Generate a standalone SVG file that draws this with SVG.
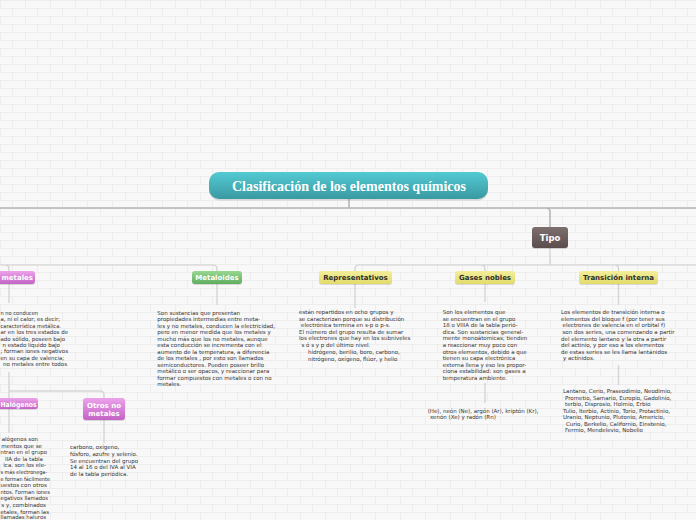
<svg xmlns="http://www.w3.org/2000/svg" width="696" height="520" viewBox="0 0 696 520">
<defs>
<pattern id="brick" width="50" height="16" patternUnits="userSpaceOnUse">
<rect width="50" height="16" fill="#f8f8f8"/>
<path d="M0,0.5H50M0,8.5H50M0.5,0V8M25.5,0V8M12.5,8V16M37.5,8V16" stroke="#ededed" stroke-width="1" fill="none"/>
</pattern>
<linearGradient id="gTitle" x1="0" y1="0" x2="0" y2="1"><stop offset="0" stop-color="#53cad3"/><stop offset="1" stop-color="#3a99a1"/></linearGradient>
<linearGradient id="gYel" x1="0" y1="0" x2="0" y2="1"><stop offset="0" stop-color="#f3ef9a"/><stop offset="1" stop-color="#e1db6b"/></linearGradient>
<linearGradient id="gGreen" x1="0" y1="0" x2="0" y2="1"><stop offset="0" stop-color="#98d791"/><stop offset="1" stop-color="#60ad60"/></linearGradient>
<linearGradient id="gPink" x1="0" y1="0" x2="0" y2="1"><stop offset="0" stop-color="#eca2ea"/><stop offset="1" stop-color="#c363c5"/></linearGradient>
<linearGradient id="gTipo" x1="0" y1="0" x2="0" y2="1"><stop offset="0" stop-color="#7e6f6f"/><stop offset="1" stop-color="#5b4d4d"/></linearGradient>
</defs>
<style>
.t{font-family:"DejaVu Sans",Verdana,sans-serif;font-size:5.5px;fill:#333}
.e{text-anchor:end}
.n{font-family:"DejaVu Sans",Verdana,sans-serif;font-weight:bold;font-size:7px;text-anchor:middle}
.w{fill:#fff}
.d{fill:#2e2e2e}
.sh{fill:#000;opacity:0.13}
.c{fill:none;stroke:#b4b4b4;stroke-width:1.5}
.c2{fill:none;stroke:#cfcfcf;stroke-width:1.2}
.c3{fill:none;stroke:#d6d6d6;stroke-width:1.5}
</style>
<rect width="696" height="520" fill="url(#brick)"/>

<g id="connectors">
<path class="c" d="M0,208H696M349,199V208M546,208Q550,208 550,212V227"/>
<path class="c2" d="M550,248V265M696,265H359Q355,265 355,269V271M481,265Q485,265 485,269V271M614.5,265Q618.5,265 618.5,269V271"/>
<path class="c2" d="M0,265H213Q217,265 217,269V271M5,265Q9,265 9,269V271"/>
<path class="c3" d="M9,284V303M217,284V305M355,284V308M485,284V302M618.5,284V305"/>
<path class="c3" d="M9,372V398M9,391H100Q104,391 104,395V398M104,420V443M9,409V433M485,383V403M618.5,365V385"/>
</g>

<g id="title">
<rect x="209" y="173.5" width="279" height="27" rx="10" class="sh"/>
<rect x="209" y="172" width="279" height="27" rx="10" fill="url(#gTitle)"/>
<text x="349" y="190.5" text-anchor="middle" style="font-family:'Liberation Serif','Times New Roman',serif;font-weight:bold;font-size:14px;fill:#fff">Clasificación de los elementos químicos</text>
</g>

<g id="tipo">
<rect x="532" y="228" width="36" height="21" rx="3" class="sh"/>
<rect x="532" y="227" width="36" height="21" rx="3" fill="url(#gTipo)"/>
<text x="550" y="240.8" class="n w" style="font-size:8.5px">Tipo</text>
</g>

<g id="no-metales">
<rect x="-30" y="272" width="65" height="13" rx="3" class="sh"/>
<rect x="-30" y="271" width="65" height="13" rx="3" fill="url(#gPink)"/>
<text x="33" y="280" class="n w" style="text-anchor:end">metales</text>
<text class="t e" x="38" y="314.7" textLength="37.5" lengthAdjust="spacingAndGlyphs">n no conducen</text>
<text class="t e" x="60" y="321.1" textLength="59.5" lengthAdjust="spacingAndGlyphs">a, ni el calor; es decir;</text>
<text class="t e" x="61" y="327.6" textLength="60.5" lengthAdjust="spacingAndGlyphs">característica metálica.</text>
<text class="t e" x="68" y="334" textLength="67.5" lengthAdjust="spacingAndGlyphs">ar en los tres estados de</text>
<text class="t e" x="65" y="340.5" textLength="64.5" lengthAdjust="spacingAndGlyphs">ado sólido, poseen bajo</text>
<text class="t e" x="60" y="346.9">n estado líquido bajo</text>
<text class="t e" x="68" y="353.4" textLength="67.5" lengthAdjust="spacingAndGlyphs">; forman iones negativos</text>
<text class="t e" x="64" y="359.8" textLength="63.5" lengthAdjust="spacingAndGlyphs">en su capa de valencia;</text>
<text class="t e" x="67" y="366.3">no metales entre todos</text>
</g>

<g id="metaloides">
<rect x="192" y="272" width="50" height="13" rx="3" class="sh"/>
<rect x="192" y="271" width="50" height="13" rx="3" fill="url(#gGreen)"/>
<text x="217" y="280" class="n w">Metaloides</text>
<text class="t">
<tspan x="157.3" y="314.7">Son sustancias que presentan</tspan>
<tspan x="157.3" y="321.2">propiedades intermedias entre meta-</tspan>
<tspan x="157.3" y="327.7">les y no metales, conducen la electricidad,</tspan>
<tspan x="157.3" y="334.2">pero en menor medida que los metales y</tspan>
<tspan x="157.3" y="340.7">mucho más que los no metales, aunque</tspan>
<tspan x="157.3" y="347.2">esta conducción se incrementa con el</tspan>
<tspan x="157.3" y="353.7">aumento de la temperatura, a diferencia</tspan>
<tspan x="157.3" y="360.2">de los metales , por esto son llamados</tspan>
<tspan x="157.3" y="366.7">semiconductores. Pueden poseer brillo</tspan>
<tspan x="157.3" y="373.2">metálico o ser opacos, y reaccionar para</tspan>
<tspan x="157.3" y="379.7">formar compuestos con metales o con no</tspan>
<tspan x="157.3" y="386.2">metales.</tspan>
</text>
</g>

<g id="representativos">
<rect x="319" y="272" width="73" height="13" rx="3" class="sh"/>
<rect x="319" y="271" width="73" height="13" rx="3" fill="url(#gYel)"/>
<text x="355.5" y="280" class="n d">Representativos</text>
<text class="t">
<tspan x="299" y="314">están repartidos en ocho grupos y</tspan>
<tspan x="299" y="320.6">se caracterizan porque su distribución</tspan>
<tspan x="301" y="327.2">electrónica termina en s-p o p-s.</tspan>
<tspan x="299" y="333.8">El número del grupo resulta de sumar</tspan>
<tspan x="299" y="340.4">los electrones que hay en los subniveles</tspan>
<tspan x="301.5" y="347">s ó s y p del último nivel.</tspan>
</text>
<text class="t">
<tspan x="308" y="354">hidrógeno, berilio, boro, carbono,</tspan>
<tspan x="308" y="360.5">nitrógeno, oxígeno, flúor, y helio</tspan>
</text>
</g>

<g id="gases-nobles">
<rect x="455" y="272" width="60" height="13" rx="3" class="sh"/>
<rect x="455" y="271" width="60" height="13" rx="3" fill="url(#gYel)"/>
<text x="485" y="280" class="n d">Gases nobles</text>
<text class="t">
<tspan x="442.7" y="314.3">Son los elementos que</tspan>
<tspan x="442.7" y="320.8">se encuentran en el grupo</tspan>
<tspan x="442.7" y="327.4">18 o VIIIA de la tabla perió-</tspan>
<tspan x="442.7" y="333.9">dica. Son sustancias general-</tspan>
<tspan x="442.7" y="340.4">mente monoátomicas; tienden</tspan>
<tspan x="442.7" y="347">a reaccionar muy poco con</tspan>
<tspan x="442.7" y="353.5">otros elementos, debido a que</tspan>
<tspan x="442.7" y="360">tienen su capa electrónica</tspan>
<tspan x="442.7" y="366.5">externa llena y eso les propor-</tspan>
<tspan x="442.7" y="373.1">ciona estabilidad: son gases a</tspan>
<tspan x="442.7" y="379.6">temperatura ambiente.</tspan>
</text>
<text class="t">
<tspan x="427.7" y="412.7">(He), neón (Ne), argón (Ar), kriptón (Kr),</tspan>
<tspan x="430" y="419.3">xenón (Xe) y radón (Rn)</tspan>
</text>
</g>

<g id="transicion-interna">
<rect x="579" y="272" width="79" height="13" rx="3" class="sh"/>
<rect x="579" y="271" width="79" height="13" rx="3" fill="url(#gYel)"/>
<text x="618.5" y="280" class="n d">Transición interna</text>
<text class="t">
<tspan x="561" y="314.3">Los elementos de transición interna o</tspan>
<tspan x="561" y="320.9">elementos del bloque f (por tener sus</tspan>
<tspan x="562.5" y="327.4">electrones de valencia en el orbital f)</tspan>
<tspan x="562.5" y="334">son dos series, una comenzando a partir</tspan>
<tspan x="561" y="340.6">del elemento lantano y la otra a partir</tspan>
<tspan x="561" y="347.1">del actinio, y por eso a los elementos</tspan>
<tspan x="561" y="353.7">de estas series se les llama lantánidos</tspan>
<tspan x="563" y="360.3">y actínidos.</tspan>
</text>
<text class="t">
<tspan x="563" y="393">Lantano, Cerio, Praseodimio, Neodimio,</tspan>
<tspan x="565" y="399.5">Prometio, Samario, Europio, Gadolinio,</tspan>
<tspan x="565" y="406">terbio, Disprosio, Holmio, Erbio</tspan>
<tspan x="563" y="412.5">Tulio, Iterbio, Actinio, Torio, Protactinio,</tspan>
<tspan x="563" y="419">Uranio, Neptunio, Plutonio, Americio,</tspan>
<tspan x="566" y="425.5">Curio, Berkelio, Californio, Einstenio,</tspan>
<tspan x="565" y="432">Fermio, Mendelevio, Nobelio</tspan>
</text>
</g>

<g id="halogenos">
<rect x="-20" y="399" width="58" height="11" rx="3" class="sh"/>
<rect x="-20" y="398" width="58" height="11" rx="3" fill="url(#gPink)"/>
<text x="36.5" y="406.5" class="n w" style="text-anchor:end" textLength="36" lengthAdjust="spacingAndGlyphs">Halógenos</text>
<text class="t e" x="38" y="441">alógenos son</text>
<text class="t e" x="42" y="447.6">mentos que se</text>
<text class="t e" x="47" y="454.2" textLength="46.5" lengthAdjust="spacingAndGlyphs">ntran en el grupo</text>
<text class="t e" x="43" y="460.8">IIA de la tabla</text>
<text class="t e" x="46" y="467.4">ica. son los ele-</text>
<text class="t e" x="47" y="474" textLength="46.5" lengthAdjust="spacingAndGlyphs">s más electronega-</text>
<text class="t e" x="50" y="480.6" textLength="49.5" lengthAdjust="spacingAndGlyphs">e forman fácilmente</text>
<text class="t e" x="47" y="487.2" textLength="46.5" lengthAdjust="spacingAndGlyphs">uestos con otros</text>
<text class="t e" x="50" y="493.8" textLength="49.5" lengthAdjust="spacingAndGlyphs">ntos. Forman iones</text>
<text class="t e" x="48" y="500.4" textLength="47.5" lengthAdjust="spacingAndGlyphs">egativos llamados</text>
<text class="t e" x="46" y="507">s y, combinados</text>
<text class="t e" x="49" y="513.6" textLength="48.5" lengthAdjust="spacingAndGlyphs">etales, forman las</text>
<text class="t e" x="46" y="519.2" textLength="45.5" lengthAdjust="spacingAndGlyphs">llamadas haluros</text>
</g>

<g id="otros-no-metales">
<rect x="83" y="399" width="42" height="22" rx="3" class="sh"/>
<rect x="83" y="398" width="42" height="22" rx="3" fill="url(#gPink)"/>
<text class="n w"><tspan x="104" y="407.5">Otros no</tspan><tspan x="104" y="416">metales</tspan></text>
<text class="t">
<tspan x="70" y="449.3">carbono, oxígeno,</tspan>
<tspan x="70" y="456">fósforo, azufre y selenio.</tspan>
<tspan x="70" y="462.6">Se encuentran del grupo</tspan>
<tspan x="70" y="469.3">14 al 16 o del IVA al VIA</tspan>
<tspan x="70" y="476">de la tabla periódica.</tspan>
</text>
</g>
</svg>
